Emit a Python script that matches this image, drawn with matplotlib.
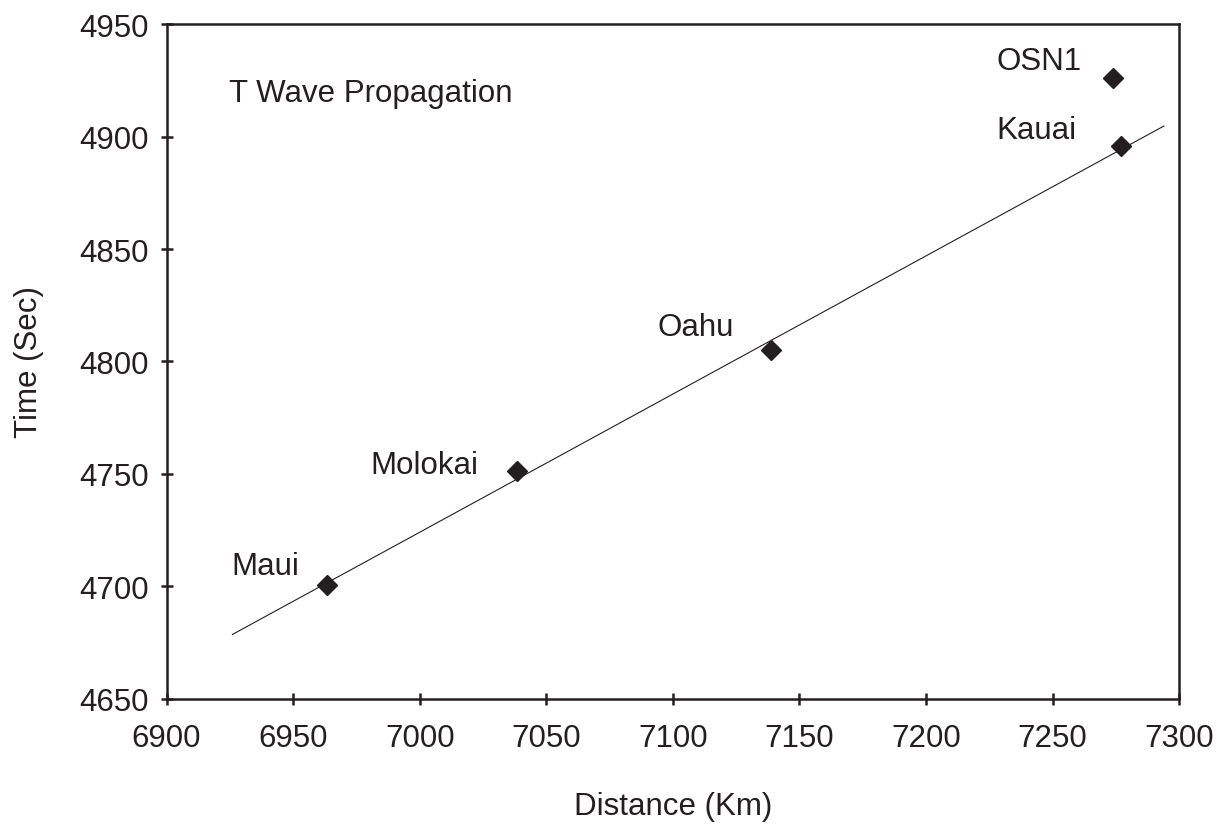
import numpy as np
from matplotlib import pyplot as plt

# arrival times of the T wave at each station
stations = ['Maui', 'Molokai', 'Oahu', 'Kauai', 'OSN1']
distance = [6963.5, 7038.3, 7138.6, 7276.9, 7273.8]   # km
arrival = [4700.8, 4751.2, 4805.1, 4895.6, 4925.9]    # sec

# the linear fit uses the island stations only
fit_stations = ['Maui', 'Molokai', 'Oahu', 'Kauai']
fit_range = [6926, 7294]

x_ticks = [6900, 6950, 7000, 7050, 7100, 7150, 7200, 7250, 7300]
y_ticks = [4650, 4700, 4750, 4800, 4850, 4900, 4950]

ink = '#231f20'
plt.rcParams['font.family'] = ['Liberation Sans', 'DejaVu Sans']

fig = plt.figure(figsize=(12.25, 8.28), dpi=100)
ax = fig.add_axes([0.136, 0.1546, 0.8265, 0.8152])

ax.plot(distance, arrival, linestyle='none', marker='D', markersize=10,
        color=ink, zorder=3)

idx = [stations.index(s) for s in fit_stations]
k, b = np.polyfit(np.array(distance)[idx], np.array(arrival)[idx], 1)
xf = np.array(fit_range)
ax.plot(xf, k * xf + b, color=ink, linewidth=0.8, zorder=2)

# station names next to the markers
label_pos = {
    'Maui': (6925.4, 4709),
    'Molokai': (6980.7, 4754),
    'Oahu': (7094.1, 4815.3),
    'Kauai': (7228, 4903),
    'OSN1': (7228, 4933.6),
}
for name in stations:
    lx, ly = label_pos[name]
    ax.text(lx, ly, name, fontsize=22.5, color=ink, ha='left', va='center')

ax.text(6924.6, 4919.3, 'T Wave Propagation', fontsize=22.5, color=ink,
        ha='left', va='center')

ax.set_xlim(6900, 7300)
ax.set_ylim(4650, 4950)
ax.set_xticks(x_ticks)
ax.set_yticks(y_ticks)
ax.tick_params(direction='inout', length=8, width=1.8, colors=ink,
               labelsize=22.5)
ax.tick_params(axis='x', pad=13)
ax.tick_params(axis='y', pad=8.5)
for sp in ax.spines.values():
    sp.set_linewidth(1.8)
    sp.set_color(ink)

ax.set_xlabel('Distance (Km)', fontsize=22.5, color=ink, labelpad=28)
ax.set_ylabel('Time (Sec)', fontsize=22.5, color=ink, labelpad=26)

fig.savefig('out.png', dpi=100)
